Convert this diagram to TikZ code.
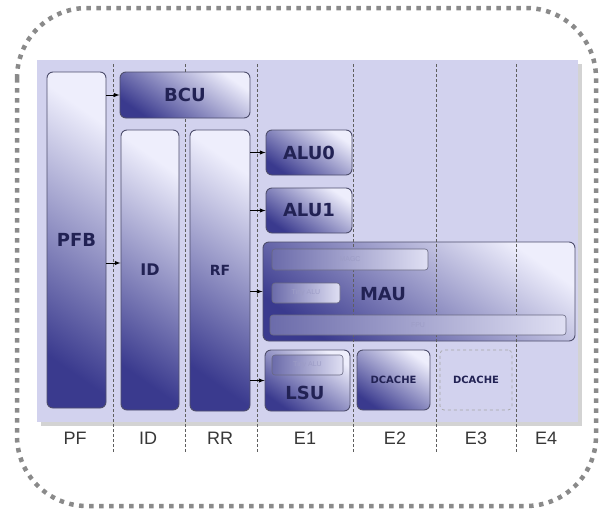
\documentclass[tikz,border=0pt]{standalone}
\usepackage{fontspec}
\setmainfont{Liberation Sans}
\newfontfamily\unitfont{DejaVu Sans}
\usepackage{tikz}
\usetikzlibrary{shadows}

\definecolor{panelfill}{RGB}{210,210,238}
\definecolor{unitdark}{RGB}{58,58,142}
\definecolor{unitlight}{RGB}{238,238,252}
\definecolor{unitedge}{RGB}{78,78,108}
\definecolor{unitink}{RGB}{34,34,84}
\definecolor{stageink}{RGB}{55,55,55}
\definecolor{dotgray}{RGB}{138,138,138}

\begin{document}
\begin{tikzpicture}[x=1pt,y=-1pt,>=latex,
  unit/.style={draw=unitedge, line width=0.9pt, rounded corners=6pt,
    shading=axis, top color=unitlight, bottom color=unitdark, shading angle=-35,
    inner sep=0pt, text=unitink, font=\unitfont\bfseries\fontsize{18}{18}\selectfont},
  bar/.style={draw=unitedge!85, line width=0.6pt, rounded corners=3pt,
    left color=unitdark!75!white, right color=panelfill!70!white,
    inner sep=0pt, text=unitdark!50!white, font=\fontsize{7}{7}\selectfont},
  ghost/.style={draw=gray!70, dashed, line width=0.7pt, rounded corners=4pt, inner sep=0pt,
    text=unitink, font=\unitfont\bfseries\fontsize{10}{10}\selectfont},
  stage/.style={text=stageink, font=\fontsize{18}{18}\selectfont},
  stagesep/.style={draw=stageink!80, dashed, dash pattern=on 3pt off 2pt, line width=0.7pt},
  feed/.style={->, line width=1pt}]
\useasboundingbox (0,0) rectangle (599,509);

% frame and pipeline panel
\draw[dotgray, line width=4.5pt, dash pattern=on 4.5pt off 5.5pt, rounded corners=70pt]
  (17,8) rectangle (596,506);
\fill[panelfill, drop shadow={shadow xshift=4pt, shadow yshift=-4pt, opacity=0.35}]
  (37,60) rectangle (578,422);

% MAU first, so that the stage lines show through it
\node[unit, minimum width=312pt, minimum height=99pt] (mau) at (419,291.5) {};

% stages
\foreach \x in {113,185,257,353,436,516}
  \draw[stagesep] (\x,64) -- (\x,452);
\foreach \name/\x in {PF/75,ID/148,RR/220,E1/305,E2/395,E3/476,E4/546}
  \node[stage] (st-\name) at (\x,438) {\name};

% units
\node[unit, minimum width=59pt, minimum height=336pt] (pfb) at (76.5,240) {PFB};
\node[unit, minimum width=130pt, minimum height=46pt] (bcu) at (185,95) {BCU};
\node[unit, minimum width=58pt, minimum height=280pt, font=\unitfont\bfseries\fontsize{16}{16}\selectfont] (idu) at (150,270) {ID};
\node[unit, minimum width=60pt, minimum height=281pt, font=\unitfont\bfseries\fontsize{14}{14}\selectfont] (rf) at (220,270.5) {RF};
\node[unit, minimum width=86pt, minimum height=45pt] (alu0) at (309,152.5) {ALU0};
\node[unit, minimum width=86pt, minimum height=45pt] (alu1) at (309,210.5) {ALU1};

% inside MAU
\node[bar, minimum width=156pt, minimum height=21pt] (magc) at (350,259.5) {MAGC};
\node[bar, minimum width=68pt, minimum height=20pt] (tinymau) at (306,293) {Tiny ALU};
\node[bar, minimum width=296pt, minimum height=20pt] (fpu) at (418,325) {FPU};
\node[text=unitink, font=\unitfont\bfseries\fontsize{18}{18}\selectfont] (maulabel) at (383,294) {MAU};

% load/store path
\node[unit, minimum width=85pt, minimum height=61pt] (lsu) at (307.5,380.5) {};
\node[bar, minimum width=71pt, minimum height=20pt] (tinylsu) at (307.5,365) {Tiny ALU};
\node[text=unitink, font=\unitfont\bfseries\fontsize{18}{18}\selectfont] (lsulabel) at (305,393) {LSU};
\node[unit, minimum width=73pt, minimum height=60pt, font=\unitfont\bfseries\fontsize{10}{10}\selectfont] (dc2) at (393.5,380) {DCACHE};
\node[ghost, minimum width=72pt, minimum height=60pt] (dc3) at (476,380) {DCACHE};

% arrows
\draw[feed] (pfb.east |- bcu.west) -- (bcu.west);
\draw[feed] ([yshift=7pt]pfb.east |- idu.west) -- ([yshift=7pt]idu.west);
\draw[feed] (rf.east |- alu0.west) -- (alu0.west);
\draw[feed] (rf.east |- alu1.west) -- (alu1.west);
\draw[feed] (rf.east |- mau.west) -- (mau.west);
\draw[feed] (rf.east |- lsu.west) -- (lsu.west);
\end{tikzpicture}
\end{document}
